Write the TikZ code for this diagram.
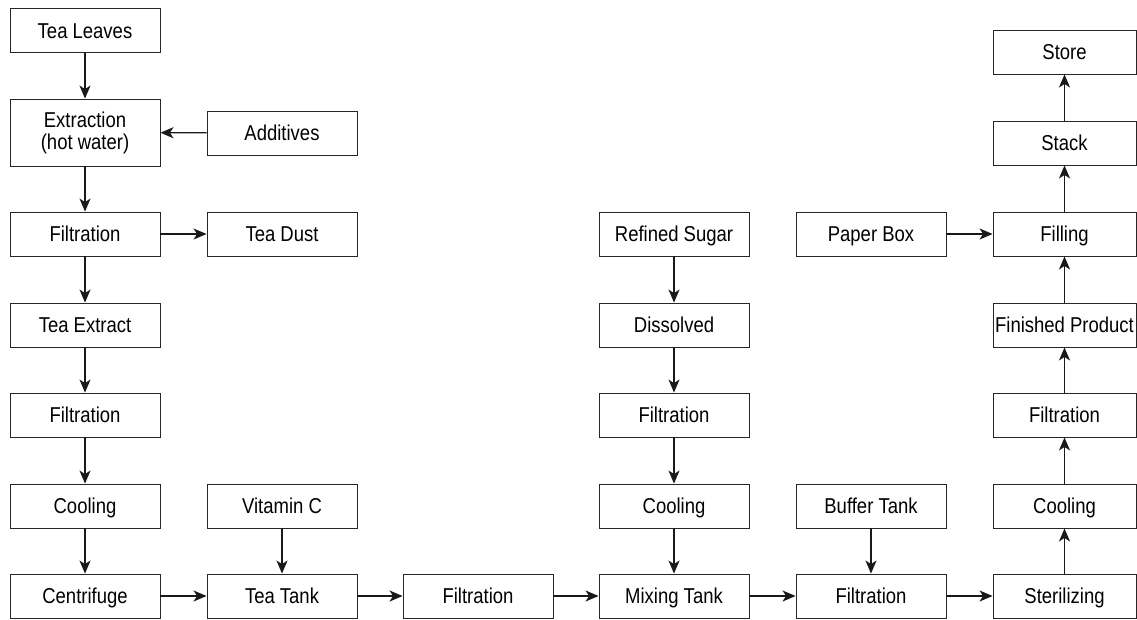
\documentclass[tikz,border=0pt]{standalone}
\usepackage{fontspec}
\setmainfont[FakeStretch=0.86]{Liberation Sans}
\usetikzlibrary{arrows.meta}
\begin{document}
\begin{tikzpicture}[x=1pt,y=-1pt,
  proc/.style={draw=black!85,line width=0.9pt,minimum width=150pt,minimum height=44pt,
    inner sep=0pt,text height=17pt,text depth=1.5pt,
    font=\fontsize{21.5}{23}\selectfont,align=center},
  lastcol/.style={proc,minimum width=143pt},
  flow/.style={line width=1.3pt,black!90,-{Stealth[length=13pt,width=11pt,inset=3.5pt]}}]
\useasboundingbox (0,0) rectangle (1137,619);
% left column: extraction line
\node[proc] (leaves) at (85,30.5) {Tea Leaves};
\node[proc,minimum height=67pt,text height=,text depth=] (extract) at (85,132.5) {Extraction\\[-1pt](hot water)};
\node[proc] (add) at (282,133) {Additives};
\node[proc] (filt1) at (85,234) {Filtration};
\node[proc] (dust) at (282,234) {Tea Dust};
\node[proc] (teaext) at (85,325) {Tea Extract};
\node[proc] (filt2) at (85,415) {Filtration};
\node[proc] (cool1) at (85,506) {Cooling};
\node[proc] (centri) at (85,596) {Centrifuge};
% bottom row
\node[proc] (vitc) at (282,506) {Vitamin C};
\node[proc] (teatank) at (282,596) {Tea Tank};
\node[proc] (filt3) at (478,596) {Filtration};
\node[proc] (mixing) at (674,596) {Mixing Tank};
\node[proc] (filt5) at (871,596) {Filtration};
\node[proc] (buffer) at (871,506) {Buffer Tank};
% sugar line
\node[proc] (sugar) at (674,234) {Refined Sugar};
\node[proc] (dissolved) at (674,325) {Dissolved};
\node[proc] (filt4) at (674,415) {Filtration};
\node[proc] (cool2) at (674,506) {Cooling};
% right column: packaging line
\node[lastcol] (steril) at (1064.5,596) {Sterilizing};
\node[lastcol] (cool3) at (1064.5,506) {Cooling};
\node[lastcol] (filt6) at (1064.5,415) {Filtration};
\node[lastcol] (finished) at (1064.5,325) {Finished Product};
\node[lastcol] (filling) at (1064.5,234) {Filling};
\node[lastcol] (stack) at (1064.5,143) {Stack};
\node[lastcol] (store) at (1064.5,52) {Store};
\node[proc] (box) at (871,234) {Paper Box};
% connectors
\draw[flow] (leaves) -- (extract);
\draw[flow] (add) -- (extract);
\draw[flow] (extract) -- (filt1);
\draw[flow] (filt1) -- (dust);
\draw[flow] (filt1) -- (teaext);
\draw[flow] (teaext) -- (filt2);
\draw[flow] (filt2) -- (cool1);
\draw[flow] (cool1) -- (centri);
\draw[flow] (centri) -- (teatank);
\draw[flow] (vitc) -- (teatank);
\draw[flow] (teatank) -- (filt3);
\draw[flow] (filt3) -- (mixing);
\draw[flow] (sugar) -- (dissolved);
\draw[flow] (dissolved) -- (filt4);
\draw[flow] (filt4) -- (cool2);
\draw[flow] (cool2) -- (mixing);
\draw[flow] (mixing) -- (filt5);
\draw[flow] (buffer) -- (filt5);
\draw[flow] (filt5) -- (steril);
\draw[flow] (steril) -- (cool3);
\draw[flow] (cool3) -- (filt6);
\draw[flow] (filt6) -- (finished);
\draw[flow] (finished) -- (filling);
\draw[flow] (box) -- (filling);
\draw[flow] (filling) -- (stack);
\draw[flow] (stack) -- (store);
\end{tikzpicture}
\end{document}
